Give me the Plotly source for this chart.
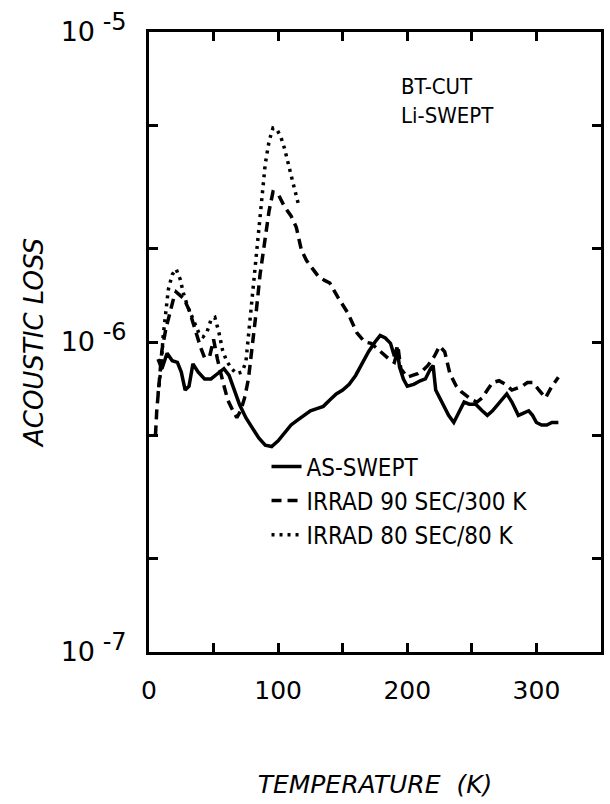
import plotly.graph_objects as go

# ---- data (temperature in K, acoustic loss) ----
t_swept = [7, 10, 14, 18, 22, 25, 28, 31, 34, 38, 43, 48, 53, 58, 62, 66, 70, 75, 80, 85, 90, 95,
           100, 105, 110, 115, 120, 125, 130, 135, 140, 145, 150, 155, 160, 165, 170, 175, 179, 183,
           187, 190, 192, 194, 197, 200, 205, 210, 214, 218, 220, 222, 225, 228, 232, 236, 240, 244,
           248, 253, 258, 262, 266, 270, 274, 277, 281, 286, 290, 294, 297, 300, 304, 308, 312, 317]
loss_swept = [8.8, 8.2, 9.2, 8.7, 8.6, 8.0, 7.0, 7.2, 8.5, 8.0, 7.6, 7.6, 7.9, 8.2, 7.8, 7.0, 6.3,
              5.7, 5.3, 4.9, 4.65, 4.6, 4.8, 5.1, 5.4, 5.6, 5.8, 6.0, 6.1, 6.2, 6.5, 6.8, 7.0, 7.3,
              7.8, 8.5, 9.3, 10.0, 10.5, 10.3, 9.9, 9.0, 9.6, 8.3, 7.6, 7.2, 7.3, 7.5, 7.6, 8.2, 8.4,
              7.0, 6.6, 6.3, 5.8, 5.5, 5.9, 6.4, 6.3, 6.3, 6.0, 5.8, 6.0, 6.3, 6.6, 6.8, 6.4, 5.8,
              5.9, 6.0, 5.8, 5.5, 5.4, 5.4, 5.5, 5.5]

t_irr300 = [5, 6, 8, 10, 13, 16, 19, 21, 24, 27, 31, 34, 37, 40, 43, 47, 50, 53, 57, 61, 65, 68, 71,
            74, 77, 80, 83, 86, 90, 93, 96, 100, 105, 110, 114, 118, 122, 126, 131, 136, 140, 146,
            154, 161, 167, 172, 177, 182, 186, 190, 193, 195, 197, 200, 204, 208, 212, 216, 221,
            225, 229, 233, 238, 242, 246, 250, 254, 258, 262, 266, 271, 276, 281, 285, 289, 293,
            297, 302, 307, 312, 317]
loss_irr300 = [5.0, 6.0, 7.5, 9.4, 11.0, 12.4, 13.8, 14.5, 14.2, 13.8, 12.7, 11.5, 10.6, 9.6, 8.9,
               9.0, 10.2, 8.8, 7.5, 6.5, 6.0, 5.7, 6.0, 6.6, 7.6, 9.5, 12.5, 16.5, 22.0, 26.5, 30.5,
               30.0, 27.3, 25.5, 23.5, 19.8, 18.3, 17.3, 16.3, 15.8, 15.5, 14.0, 12.4, 10.7, 10.0,
               9.9, 9.5, 9.1, 8.8, 8.6, 9.5, 8.2, 8.0, 7.7, 7.8, 7.9, 8.1, 8.4, 9.0, 9.7, 9.3, 7.9,
               7.2, 6.9, 6.7, 6.5, 6.4, 6.6, 7.0, 7.4, 7.5, 7.3, 7.0, 7.1, 7.2, 7.4, 7.4, 7.0, 6.6,
               7.2, 7.7]

t_irr80 = [7, 9, 11, 13, 15, 18, 21, 24, 27, 30, 33, 36, 39, 42, 45, 48, 51, 54, 57, 60, 64, 68,
           72, 75, 78, 81, 84, 87, 90, 93, 96, 99, 102, 105, 108, 112, 116]
loss_irr80 = [6.8, 8.0, 10.5, 12.8, 14.8, 16.5, 17.2, 16.0, 14.2, 13.0, 12.2, 11.3, 10.6, 10.4,
              10.8, 11.8, 12.0, 10.8, 9.4, 8.7, 8.2, 7.9, 8.0, 8.6, 11.5, 15.5, 21.0, 28.0, 37.5,
              44.5, 49.0, 48.5, 46.0, 42.0, 37.0, 32.0, 27.5]
LOSS_UNIT = 1e-7

x_tickvals = [0, 100, 200, 300]
x_ticktext = ["0", "100", "200", "300"]
x_minor_tickvals = [50, 150, 250, 350]
y_tickvals = [1e-7, 1e-6, 1e-5]
y_ticktext = ['10<sup><span style="font-size:24px"> -7</span></sup>',
              '10<sup><span style="font-size:24px"> -6</span></sup>',
              '10<sup><span style="font-size:24px"> -5</span></sup>']
y_minor_tickvals = [2e-7, 5e-7, 2e-6, 5e-6]

series_names = ["AS-SWEPT", "IRRAD 90 SEC/300 K", "IRRAD 80 SEC/80 K"]

FONT_C = "DejaVu Sans Condensed, Liberation Sans Narrow, DejaVu Sans, sans-serif"
FONT = "DejaVu Sans, sans-serif"

fig = go.Figure()
fig.add_trace(go.Scatter(x=t_swept, y=[v * LOSS_UNIT for v in loss_swept], mode="lines",
                         name=series_names[0], line=dict(color="black", width=3.5)))
fig.add_trace(go.Scatter(x=t_irr300, y=[v * LOSS_UNIT for v in loss_irr300], mode="lines",
                         name=series_names[1], line=dict(color="black", width=3.5, dash="10px,6px")))
fig.add_trace(go.Scatter(x=t_irr80, y=[v * LOSS_UNIT for v in loss_irr80], mode="lines",
                         name=series_names[2], line=dict(color="black", width=3.5, dash="3px,5px")))

axis_common = dict(showgrid=False, zeroline=False, showline=True, linecolor="black", linewidth=3,
                   mirror="ticks", ticks="inside", ticklen=9, tickwidth=2.5, tickcolor="black")

fig.update_xaxes(range=[0, 350], tickmode="array", tickvals=x_tickvals, ticktext=x_ticktext,
                 tickfont=dict(family=FONT, size=25, color="black"),
                 minor=dict(tickmode="array", tickvals=x_minor_tickvals, ticks="inside",
                            ticklen=9, tickwidth=2.5, tickcolor="black", showgrid=False),
                 ticklabelstandoff=14,
                 title=dict(text="TEMPERATURE  (K)", standoff=72,
                            font=dict(family=FONT, size=25, color="black", style="italic")),
                 **axis_common)
fig.update_yaxes(type="log", range=[-7, -5], tickmode="array", tickvals=y_tickvals,
                 ticktext=y_ticktext, ticklabelstandoff=14,
                 tickfont=dict(family=FONT, size=27, color="black"),
                 minor=dict(tickmode="array", tickvals=y_minor_tickvals, ticks="inside",
                            ticklen=9, tickwidth=2.5, tickcolor="black", showgrid=False),
                 title=dict(text="ACOUSTIC LOSS", standoff=10,
                            font=dict(family=FONT, size=26, color="black", style="italic")),
                 **axis_common)

fig.add_annotation(xref="paper", yref="paper", x=0.553, y=0.935, xanchor="left", yanchor="top",
                   text="BT-CUT<br>Li-SWEPT", align="left", showarrow=False,
                   font=dict(family=FONT_C, size=22, color="black"))

fig.update_layout(
    width=610, height=804,
    margin=dict(l=149, r=6, t=32, b=152),
    paper_bgcolor="white", plot_bgcolor="white",
    showlegend=True,
    legend=dict(x=0.26, y=0.335, xanchor="left", yanchor="top", bgcolor="rgba(0,0,0,0)",
                font=dict(family=FONT_C, size=24, color="black"), itemwidth=30,
                tracegroupgap=0),
)

fig.write_html("out.html")
